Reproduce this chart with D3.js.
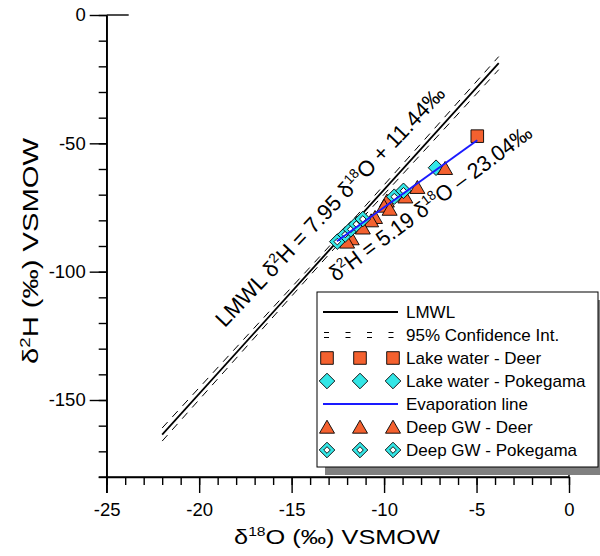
<!DOCTYPE html>
<html><head><meta charset="utf-8">
<script src="https://cdn.jsdelivr.net/npm/d3@7"></script>
<style>
body{margin:0;background:#fff}
svg{display:block}
text{font-family:Arial,"Liberation Sans",sans-serif;fill:#000}
</style>
</head><body>
<svg id="chart" width="600" height="556"></svg>
<script>
// ---- data ----
const xMajorTicks = [-25, -20, -15, -10, -5, 0];
const yMajorTicks = [0, -50, -100, -150];
const xDomain = [-25, 0];
const yDomain = [-180, 0];

const lakeDeer = [[-4.96, -47.2]];
const lakePokegama = [[-7.19, -59.5]];
const deepDeer = [
  [-6.70, -60.1], [-8.20, -67.5], [-8.85, -71.2], [-9.85, -72.8], [-10.0, -74.8],
  [-9.70, -76.0], [-10.49, -79.2], [-10.70, -80.5], [-11.15, -83.3], [-11.75, -87.5],
  [-12.0, -88.8]
];
const deepPokegama = [
  [-12.53, -88.3], [-12.10, -85.5], [-11.80, -83.5], [-11.50, -81.5], [-11.15, -79.5],
  [-9.45, -70.8], [-8.95, -68.5]
];
const lmwlLine = [[-22, -163.46], [-3.8, -18.77]];
const ciUpper = [[-22, -160.9], [-13, -90.4], [-3.8, -16.2]];
const ciLower = [[-22, -166.0], [-13, -93.4], [-3.8, -21.3]];
const evapLine = [[-12.55, -88.17], [-4.96, -48.78]];

const legendItems = ["LMWL", "95% Confidence Int.", "Lake water - Deer", "Lake water - Pokegama",
  "Evaporation line", "Deep GW - Deer", "Deep GW - Pokegama"];

// ---- styles ----
const ORANGE = "#F4612F", CYAN = "#33E6E6", BLUE = "#1a1aff";
const FONT = "Arial, Liberation Sans, sans-serif";

const svg = d3.select("#chart");
const x = d3.scaleLinear().domain(xDomain).range([106.7, 569]);
const y = d3.scaleLinear().domain(yDomain).range([477, 15]);

// axes
function steps(a, b, step) { return d3.range(a, b + 1e-9, step); }
const gx = svg.append("g").attr("transform", `translate(0,${y(-180)})`);
gx.call(d3.axisBottom(x).tickValues(steps(-25, 0, 1)).tickSize(8).tickFormat(""));
gx.call(g => g.select(".domain").remove());
const gx2 = svg.append("g").attr("transform", `translate(0,${y(-180)})`);
gx2.call(d3.axisBottom(x).tickValues(xMajorTicks).tickSize(16).tickSizeOuter(0).tickPadding(10)
  .tickFormat(d => d));

const gy = svg.append("g").attr("transform", `translate(${x(-25)},0)`);
gy.call(d3.axisLeft(y).tickValues(steps(-180, 0, 10)).tickSize(8).tickFormat(""));
gy.call(g => g.select(".domain").remove());
const gy2 = svg.append("g").attr("transform", `translate(${x(-25)},0)`);
gy2.call(d3.axisLeft(y).tickValues(yMajorTicks).tickSize(17).tickSizeOuter(0).tickPadding(4)
  .tickFormat(d => d));
[gx, gx2, gy, gy2].forEach(g => {
  g.attr("font-size", null).attr("font-family", null);
  g.selectAll("line").attr("stroke", "#000").attr("stroke-width", 1.4);
  g.selectAll(".domain").attr("stroke", "#000").attr("stroke-width", 1.4);
  g.selectAll("text").attr("fill", "#000").attr("font-size", 18.5).attr("font-family", FONT);
});
// axis extensions / cross ticks at the ends
svg.append("line").attr("x1", x(-25)).attr("x2", x(-25)).attr("y1", y(0)).attr("y2", y(-180) + 16)
  .attr("stroke", "#000").attr("stroke-width", 1.4);
svg.append("line").attr("x1", x(-25) - 8).attr("x2", x(0)).attr("y1", y(-180)).attr("y2", y(-180))
  .attr("stroke", "#000").attr("stroke-width", 1.4);
svg.append("line").attr("x1", x(-25)).attr("x2", x(-25) + 22).attr("y1", y(0)).attr("y2", y(0))
  .attr("stroke", "#000").attr("stroke-width", 1.4);
svg.append("line").attr("x1", x(0)).attr("x2", x(0)).attr("y1", y(-180) - 9).attr("y2", y(-180))
  .attr("stroke", "#000").attr("stroke-width", 1.4);

// helper: stretch a text horizontally (in its own frame) to a target length
function fitLength(t, target) {
  const w = t.node().getComputedTextLength();
  return target / w;
}

// axis titles
const xt = svg.append("text").attr("text-anchor", "middle").attr("font-size", 21);
xt.append("tspan").text("δ");
xt.append("tspan").attr("font-size", 13).attr("dy", -8).text("18");
xt.append("tspan").attr("dy", 8).text("O (‰) VSMOW");
const sxX = fitLength(xt, 206);
xt.attr("transform", `translate(337,544) scale(${sxX},1)`);

const yt = svg.append("text").attr("text-anchor", "middle").attr("font-size", 22);
yt.append("tspan").text("δ");
yt.append("tspan").attr("font-size", 14).attr("dy", -8).text("2");
yt.append("tspan").attr("dy", 8).text("H (‰) VSMOW");
const sxY = fitLength(yt, 226);
yt.attr("transform", `translate(38,251) rotate(-90) scale(${sxY},1)`);

// lines
const line = d3.line().x(d => x(d[0])).y(d => y(d[1]));
svg.append("path").attr("d", line(ciUpper)).attr("fill", "none").attr("stroke", "#000").attr("stroke-width", 1).attr("stroke-dasharray", "8,7");
svg.append("path").attr("d", line(ciLower)).attr("fill", "none").attr("stroke", "#000").attr("stroke-width", 1).attr("stroke-dasharray", "8,7");
svg.append("path").attr("d", line(lmwlLine)).attr("fill", "none").attr("stroke", "#000").attr("stroke-width", 1.8);

// marker shapes
function squarePath(r) { return `M${-r},${-r}H${r}V${r}H${-r}Z`; }
function diamondPath(r) { return `M0,${-r}L${r},0L0,${r}L${-r},0Z`; }
function trianglePath(w, h) { return `M0,${-h * 0.6}L${w / 2},${h * 0.4}L${-w / 2},${h * 0.4}Z`; }

function drawSquare(g, px, py) {
  g.append("path").attr("transform", `translate(${px},${py})`).attr("d", squarePath(6.3))
    .attr("fill", ORANGE).attr("stroke", "#000").attr("stroke-width", 0.9);
}
function drawDiamond(g, px, py) {
  g.append("path").attr("transform", `translate(${px},${py})`).attr("d", diamondPath(7.8))
    .attr("fill", CYAN).attr("stroke", "#000").attr("stroke-width", 0.9);
}
function drawTriangle(g, px, py) {
  g.append("path").attr("transform", `translate(${px},${py})`).attr("d", trianglePath(15, 13))
    .attr("fill", ORANGE).attr("stroke", "#000").attr("stroke-width", 0.9);
}
function drawDeepPok(g, px, py) {
  g.append("path").attr("transform", `translate(${px},${py})`).attr("d", diamondPath(7.8))
    .attr("fill", CYAN).attr("stroke", "#000").attr("stroke-width", 0.9);
  g.append("path").attr("transform", `translate(${px},${py})`).attr("d", diamondPath(3.3))
    .attr("fill", "#fff").attr("stroke", "#000").attr("stroke-width", 0.9);
}

const mk = svg.append("g");
lakeDeer.forEach(d => drawSquare(mk, x(d[0]), y(d[1])));
lakePokegama.forEach(d => drawDiamond(mk, x(d[0]), y(d[1])));
deepDeer.forEach(d => drawTriangle(mk, x(d[0]), y(d[1])));
deepPokegama.forEach(d => drawDeepPok(mk, x(d[0]), y(d[1])));

svg.append("path").attr("d", line(evapLine)).attr("fill", "none").attr("stroke", BLUE).attr("stroke-width", 2);

// annotations
function supLabel(cx, cy, angle, parts, size, target) {
  const t = svg.append("text").attr("text-anchor", "middle").attr("font-size", size);
  parts.forEach(p => {
    if (p.sup) { t.append("tspan").attr("font-size", size * 0.62).attr("dy", -size * 0.38).text(p.sup); }
    else { t.append("tspan").attr("dy", p.after ? size * 0.38 : 0).text(p.t); }
  });
  const s = fitLength(t, target);
  t.attr("transform", `translate(${cx},${cy}) rotate(${angle}) scale(${s},1)`);
}
const lmwlLabelPos = [-12.62, -76.6];
const evapLabelPos = [-7.25, -75.6];
supLabel(x(lmwlLabelPos[0]), y(lmwlLabelPos[1]), -46.5,
  [{t: "LMWL δ"}, {sup: "2"}, {t: "H = 7.95 δ", after: true}, {sup: "18"}, {t: "O + 11.44‰", after: true}], 22, 322);
supLabel(x(evapLabelPos[0]), y(evapLabelPos[1]), -36.5,
  [{t: "δ"}, {sup: "2"}, {t: "H = 5.19 δ", after: true}, {sup: "18"}, {t: "O – 23.04‰", after: true}], 22, 246);

// legend
const lg = svg.append("g");
lg.append("rect").attr("x", 325).attr("y", 300).attr("width", 281).attr("height", 175).attr("fill", "#808080");
lg.append("rect").attr("x", 317).attr("y", 292).attr("width", 281).attr("height", 175)
  .attr("fill", "#fff").attr("stroke", "#000").attr("stroke-width", 1);
const rowY = i => 312 + i * 23;
const sx = [327, 360, 393];
lg.append("line").attr("x1", 323).attr("x2", 398).attr("y1", rowY(0)).attr("y2", rowY(0)).attr("stroke", "#000").attr("stroke-width", 1.8);
[-2.5, 2.5].forEach(o => lg.append("line").attr("x1", 324).attr("x2", 398).attr("y1", rowY(1) + o).attr("y2", rowY(1) + o)
  .attr("stroke", "#000").attr("stroke-width", 1).attr("stroke-dasharray", "5,16.5"));
sx.forEach(px => drawSquare(lg, px, rowY(2)));
sx.forEach(px => drawDiamond(lg, px, rowY(3)));
lg.append("line").attr("x1", 323).attr("x2", 398).attr("y1", rowY(4)).attr("y2", rowY(4)).attr("stroke", BLUE).attr("stroke-width", 2);
sx.forEach(px => drawTriangle(lg, px, rowY(5) + 1));
sx.forEach(px => drawDeepPok(lg, px, rowY(6)));
legendItems.forEach((t, i) => lg.append("text").attr("x", 406).attr("y", rowY(i)).attr("dy", "0.36em")
  .attr("font-size", 17).text(t));
</script>
</body></html>
